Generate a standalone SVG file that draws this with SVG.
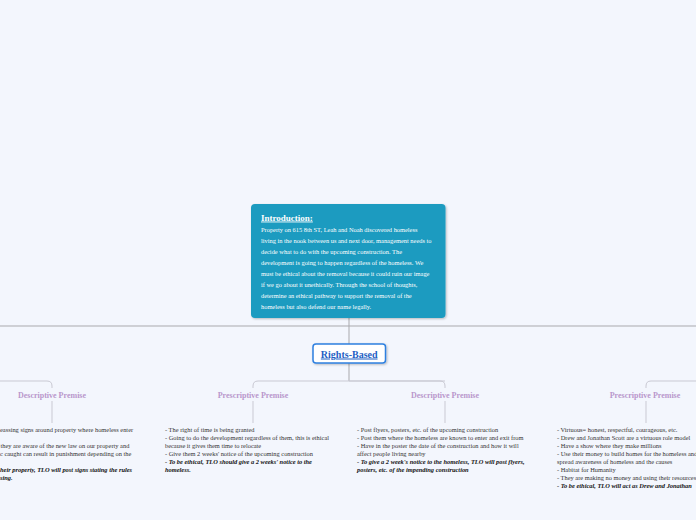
<svg xmlns="http://www.w3.org/2000/svg" width="696" height="520" viewBox="0 0 696 520">
<defs>
<filter id="sh" x="-20%" y="-30%" width="140%" height="160%">
<feDropShadow dx="1" dy="1" stdDeviation="0.8" flood-color="#000" flood-opacity="0.25"/>
</filter>
<style>
.body{font-family:"Liberation Serif","Times New Roman",serif;font-size:6.4px;fill:#333}
.bi{font-family:"Liberation Serif","Times New Roman",serif;font-size:6.4px;fill:#111;font-weight:bold;font-style:italic}
.intro{font-family:"Liberation Serif","Times New Roman",serif;font-size:6.4px;fill:#fff}
.prem{font-family:"Liberation Serif","Times New Roman",serif;font-size:8px;font-weight:bold;fill:#b996cc;text-anchor:middle}
.main{stroke:#a9a9ad;stroke-width:1;fill:none}
.br{stroke:#c9c9d3;stroke-width:1;fill:none}
</style>
</defs>
<rect width="696" height="520" fill="#f3f6fd"/>
<g id="connectors">
<line class="main" x1="0" y1="326" x2="696" y2="326"/>
<line class="main" x1="349" y1="318" x2="349" y2="344"/>
<line class="main" x1="349" y1="363" x2="349" y2="381"/>
<path class="br" d="M0 381 H47 Q52 381 52 386 V388"/>
<path class="br" d="M445 381 H258 Q253 381 253 386 V388"/>
<path class="br" d="M349 381 H440 Q445 381 445 386 V388"/>
<path class="br" d="M696 381 H651 Q646 381 646 386 V388"/>
<line class="br" x1="52" y1="401" x2="52" y2="423"/>
<line class="br" x1="253" y1="401" x2="253" y2="423"/>
<line class="br" x1="445" y1="401" x2="445" y2="423"/>
<line class="br" x1="646" y1="401" x2="646" y2="423"/>
</g>
<g id="intro">
<rect x="251" y="204" width="194.5" height="114" rx="4" fill="#1a9bc0" filter="url(#sh)"/>
<text x="261" y="220.5" font-family="Liberation Serif,serif" font-size="9" font-weight="bold" fill="#fff" text-decoration="underline">Introduction: </text>
<text class="intro" x="261" y="232">Property on 615 8th ST, Leah and Noah discovered homeless</text>
<text class="intro" x="261" y="243">living in the nook between us and next door, management needs to</text>
<text class="intro" x="261" y="254">decide what to do with the upcoming construction. The</text>
<text class="intro" x="261" y="265">development is going to happen regardless of the homeless. We</text>
<text class="intro" x="261" y="276">must be ethical about the removal because it could ruin our image</text>
<text class="intro" x="261" y="287">if we go about it unethically. Through the school of thoughts,</text>
<text class="intro" x="261" y="298">determine an ethical pathway to support the removal of the</text>
<text class="intro" x="261" y="309">homeless but also defend our name legally.</text>
</g>
<g id="rights">
<rect x="313" y="344" width="72.5" height="19" rx="3" fill="#fff" stroke="#2f80e0" stroke-width="1.5" filter="url(#sh)"/>
<text x="349.2" y="357.5" font-family="Liberation Serif,serif" font-size="10" font-weight="bold" fill="#1f5fc4" text-anchor="middle" text-decoration="underline">Rights-Based</text>
</g>
<g id="premise1">
<text class="prem" x="52" y="397.5">Descriptive Premise</text>
</g>
<g id="premise2">
<text class="prem" x="253" y="397.5">Prescriptive Premise</text>
</g>
<g id="premise3">
<text class="prem" x="445" y="397.5">Descriptive Premise</text>
</g>
<g id="premise4">
<text class="prem" x="645" y="397.5">Prescriptive Premise</text>
</g>
<g id="detail1">
<text class="body" x="0" y="432">eassing signs around property where homeless enter</text>
<text class="body" x="0.5" y="448">they are aware of the new law on our property and</text>
<text class="body" x="0" y="456">c caught can result in punishment depending on the</text>
<text class="bi" x="0" y="472">heir property, TLO will post signs stating the rules</text>
<text class="bi" x="0" y="480">sing.</text>
</g>
<g id="detail2">
<text class="body" x="165" y="432">- The right of time is being granted</text>
<text class="body" x="165" y="440">- Going to do the development regardless of them, this is ethical</text>
<text class="body" x="165" y="448">because it gives them time to relocate</text>
<text class="body" x="165" y="456">- Give them 2 weeks' notice of the upcoming construction</text>
<text class="bi" x="165" y="464">- To be ethical, TLO should give a 2 weeks' notice to the</text>
<text class="bi" x="165" y="472">homeless.</text>
</g>
<g id="detail3">
<text class="body" x="357" y="432">- Post flyers, posters, etc. of the upcoming construction</text>
<text class="body" x="357" y="440">- Post them where the homeless are known to enter and exit from</text>
<text class="body" x="357" y="448">- Have in the poster the date of the construction and how it will</text>
<text class="body" x="357" y="456">affect people living nearby</text>
<text class="bi" x="357" y="464">- To give a 2 week's notice to the homeless, TLO will post flyers,</text>
<text class="bi" x="357" y="472">posters, etc. of the impending construction</text>
</g>
<g id="detail4">
<text class="body" x="557" y="432">- Virtuous= honest, respectful, courageous, etc.</text>
<text class="body" x="557" y="440">- Drew and Jonathan Scott are a virtuous role model</text>
<text class="body" x="557" y="448">- Have a show where they make millions</text>
<text class="body" x="557" y="456">- Use their money to build homes for the homeless and</text>
<text class="body" x="557" y="464">spread awareness of homeless and the causes</text>
<text class="body" x="557" y="472">- Habitat for Humanity</text>
<text class="body" x="557" y="480">- They are making no money and using their resources</text>
<text class="bi" x="557" y="488">- To be ethical, TLO will act as Drew and Jonathan</text>
</g>
</svg>
